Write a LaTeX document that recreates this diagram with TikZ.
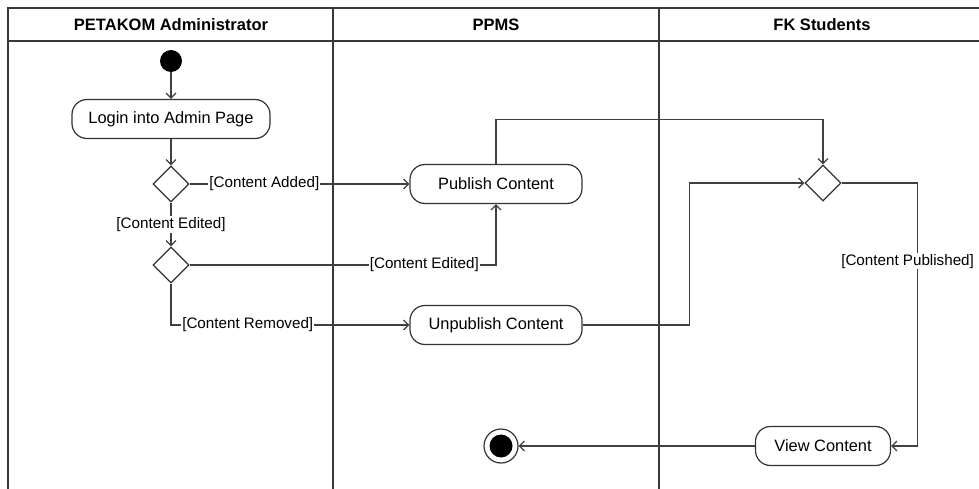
\documentclass[tikz,border=0pt]{standalone}
\usepackage{fontspec}
\setmainfont{Liberation Sans}
\usetikzlibrary{arrows.meta,shapes.geometric}
\begin{document}
\begin{tikzpicture}[x=1pt,y=-1pt,
  lane/.style={line width=1.6pt, draw=black!78},
  flow/.style={line width=1.2pt, draw=black!75, -{Straight Barb[length=5pt,width=10pt]}},
  act/.style={draw=black!80, line width=1.2pt, rounded corners=15pt, minimum height=39pt,
              inner sep=0pt, fill=white, font=\fontsize{16.4}{19}\selectfont},
  dec/.style={diamond, draw=black!80, line width=1.2pt, minimum width=36pt,
              minimum height=36pt, inner sep=0pt, fill=white},
  grd/.style={fill=white, inner sep=1pt, font=\fontsize{15.2}{18}\selectfont},
  hdr/.style={font=\fontsize{16.5}{19}\selectfont\bfseries}]

% canvas
\fill[white] (0,0) rectangle (979,489);
\useasboundingbox (0,0) rectangle (979,489);

% swimlanes
\draw[lane] (8,489) -- (8,8) -- (979,8);
\draw[lane] (8,41) -- (979,41);
\draw[lane] (333,8) -- (333,489);
\draw[lane] (659,8) -- (659,489);
\node[hdr] (h1) at (171,25) {PETAKOM Administrator};
\node[hdr] (h2) at (496,25) {PPMS};
\node[hdr] (h3) at (822,25) {FK Students};

% activity nodes
\node[circle, fill=black, minimum size=22pt, inner sep=0pt] (start) at (171,61) {};
\node[act, minimum width=198pt] (login) at (171,119) {Login into Admin Page};
\node[dec] (d1) at (171,184) {};
\node[dec] (d2) at (171,265) {};
\node[act, minimum width=172pt] (publish) at (496,184) {Publish Content};
\node[act, minimum width=172pt] (unpublish) at (496,325) {Unpublish Content};
\node[dec] (d3) at (823,183) {};
\node[act, minimum width=135pt] (view) at (823,446) {View Content};
\node[circle, draw=black!80, line width=1.2pt, minimum size=34pt, inner sep=0pt,
      path picture={\fill[black] (path picture bounding box.center) circle (11.5pt);}]
      (stop) at (501,446) {};

% control flow
\draw[flow] (start) -- (login);
\draw[flow] (login) -- (d1);
\draw[flow] (d1.east) -- node[grd, pos=0.34] {[Content Added]} (publish.west);
\draw[flow] (d1.south) -- node[grd] {[Content Edited]} (d2.north);
\draw[flow] (d2.east) -| node[grd, pos=0.383] {[Content Edited]} (publish.south);
\draw[flow] (d2.south) |- node[grd, pos=0.661] {[Content Removed]} (unpublish.west);
\draw[flow] (publish.north) -- ++(0,-44) -| (d3.north);
\draw[flow] (unpublish.east) -- ++(107,0) |- (d3.west);
\draw[flow] (d3.east) -- ++(76,0) coordinate (k1)
  -- node[grd, pos=0.297, xshift=-10pt] {[Content Published]} (k1 |- view.east)
  -- (view.east);
\draw[flow] (view.west) -- (stop.east);
\end{tikzpicture}
\end{document}
